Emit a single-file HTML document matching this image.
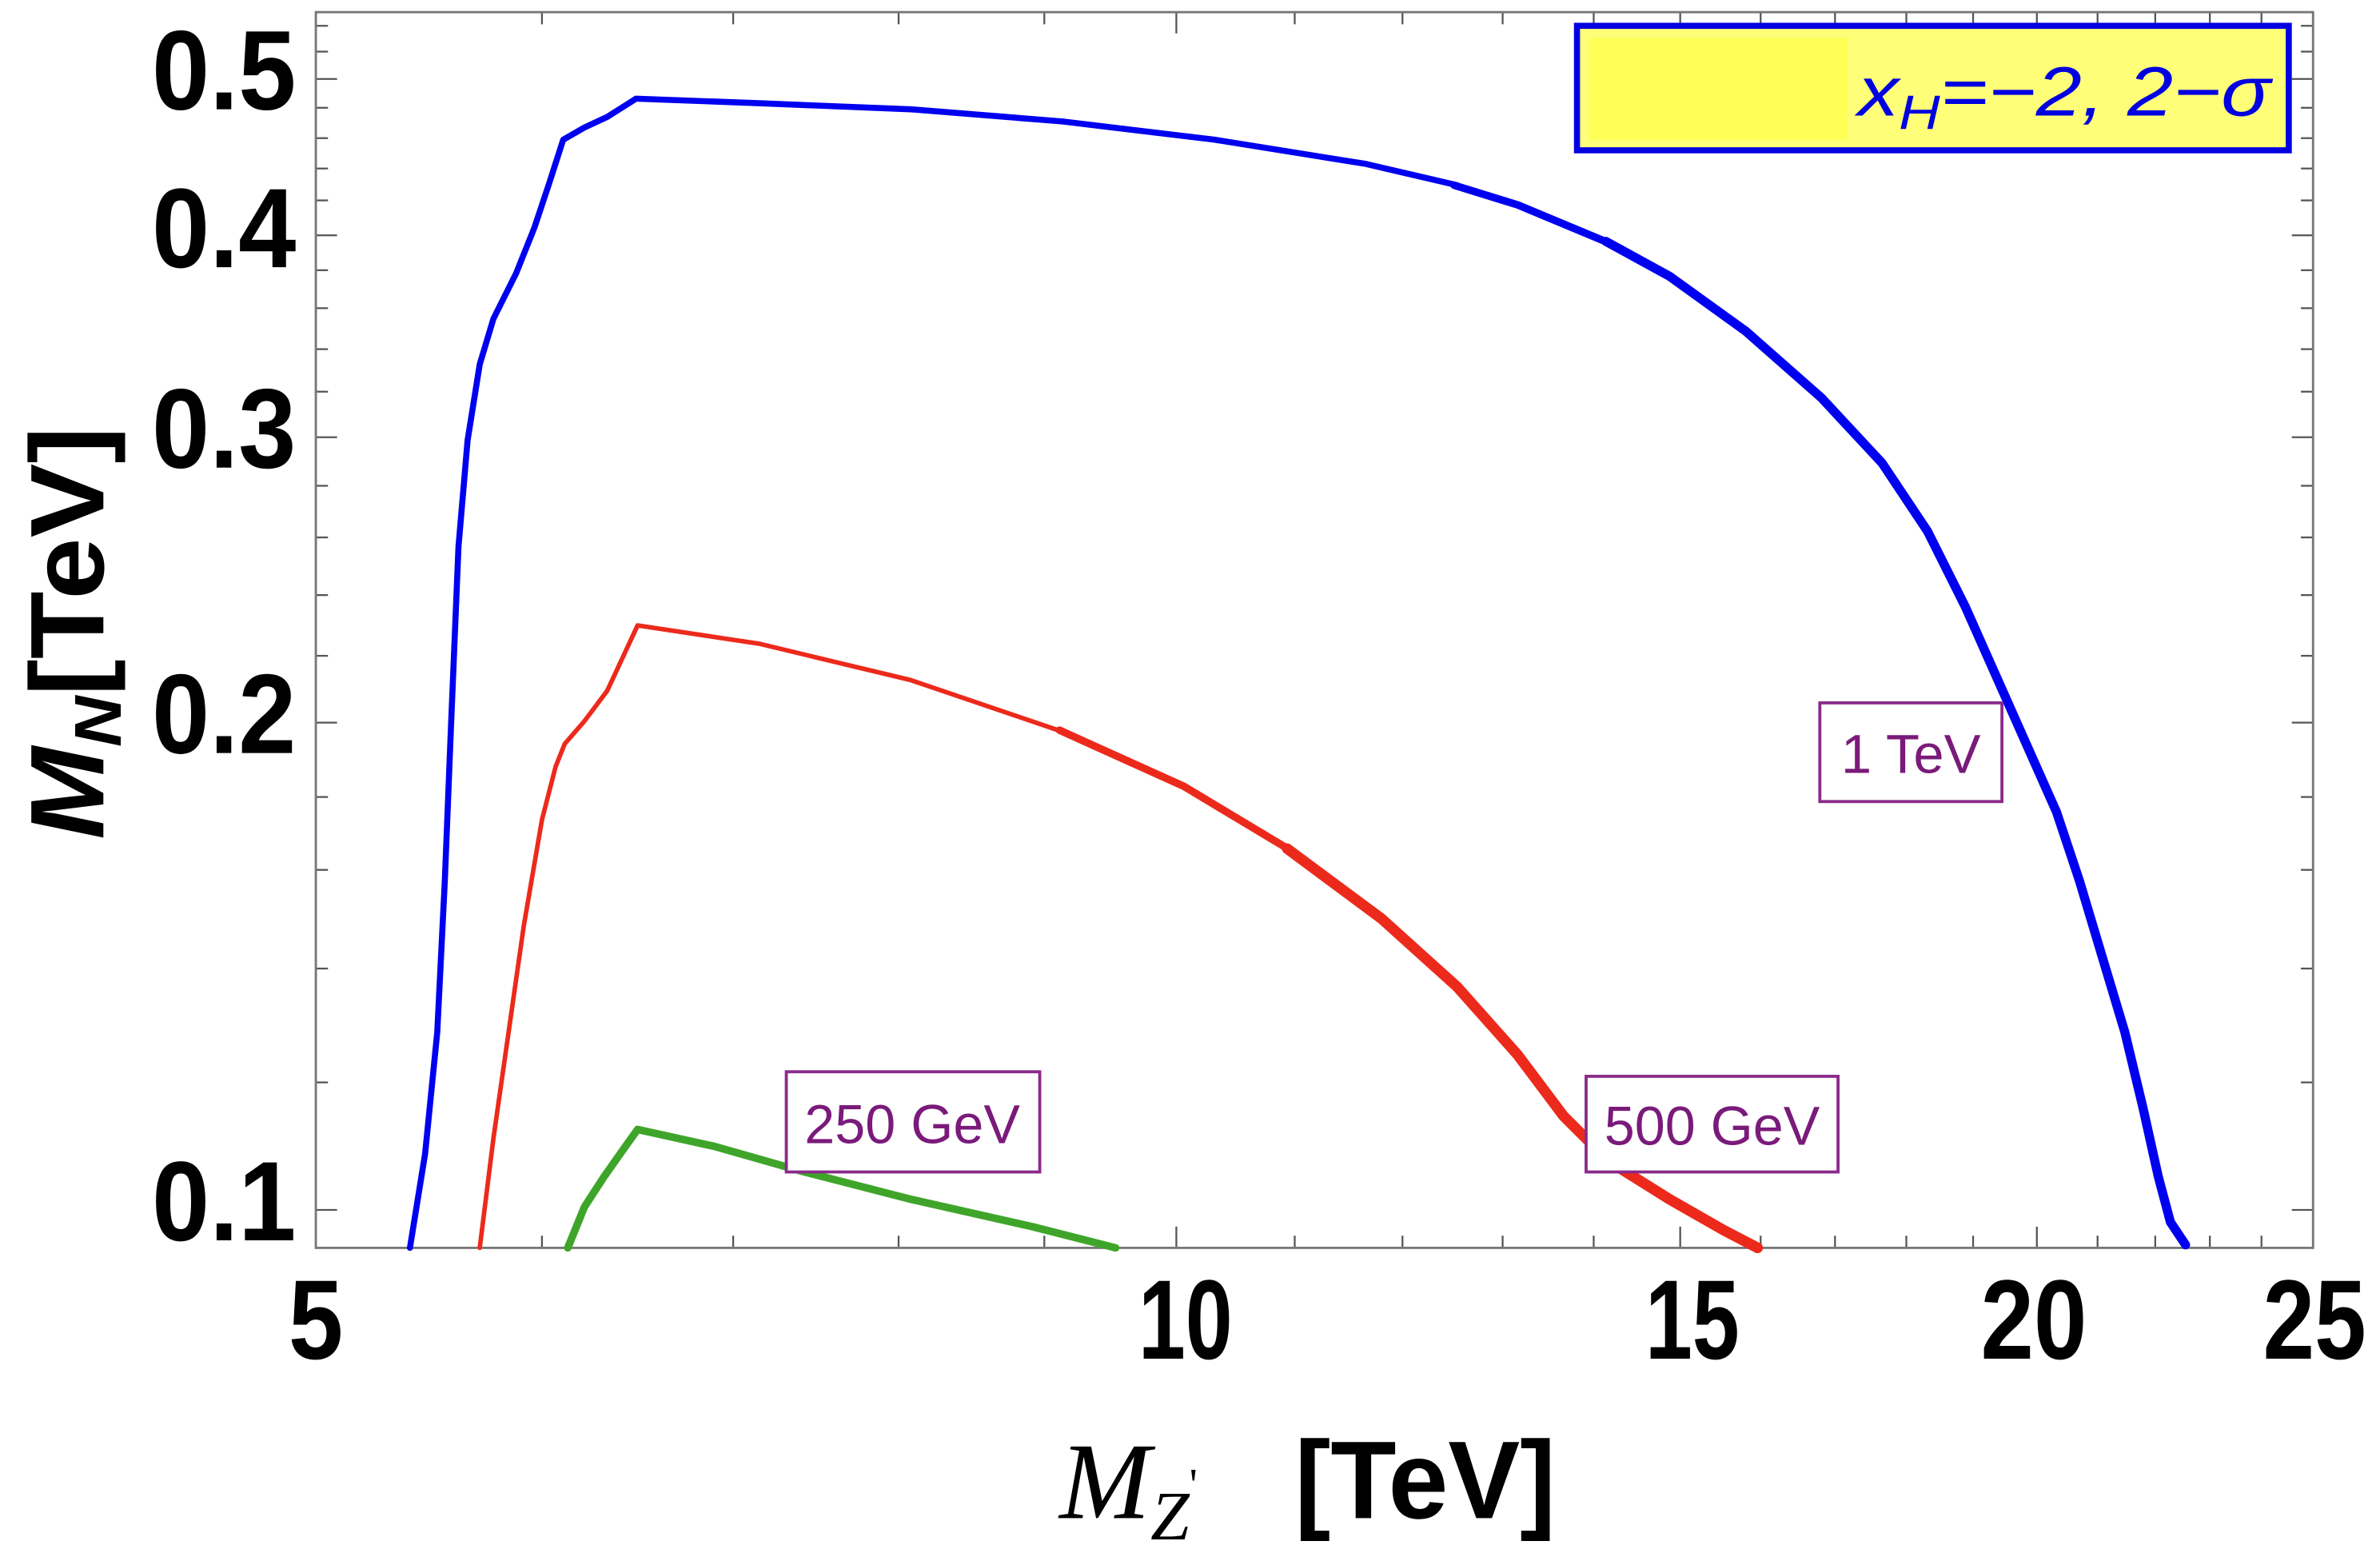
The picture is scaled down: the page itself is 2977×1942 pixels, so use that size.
<!DOCTYPE html>
<html><head><meta charset="utf-8"><style>
html,body{margin:0;padding:0;background:#fff;}
svg{display:block;}
</style></head><body>
<svg xmlns="http://www.w3.org/2000/svg" width="2977" height="1942" viewBox="0 0 1568 1023">
<rect x="0" y="0" width="1568" height="1023" fill="#fff"/>
<g stroke="#555" stroke-width="1.2">
<g id="xt">
<line x1="357" y1="822" x2="357" y2="814"/>
<line x1="483" y1="822" x2="483" y2="814"/>
<line x1="592" y1="822" x2="592" y2="814"/>
<line x1="688" y1="822" x2="688" y2="814"/>
<line x1="775" y1="822" x2="775" y2="808"/>
<line x1="853" y1="822" x2="853" y2="814"/>
<line x1="924" y1="822" x2="924" y2="814"/>
<line x1="990" y1="822" x2="990" y2="814"/>
<line x1="1050" y1="822" x2="1050" y2="814"/>
<line x1="1107" y1="822" x2="1107" y2="808"/>
<line x1="1160" y1="822" x2="1160" y2="814"/>
<line x1="1209" y1="822" x2="1209" y2="814"/>
<line x1="1256" y1="822" x2="1256" y2="814"/>
<line x1="1300" y1="822" x2="1300" y2="814"/>
<line x1="1342" y1="822" x2="1342" y2="808"/>
<line x1="1382" y1="822" x2="1382" y2="814"/>
<line x1="1420" y1="822" x2="1420" y2="814"/>
<line x1="1456" y1="822" x2="1456" y2="814"/>
<line x1="1490" y1="822" x2="1490" y2="814"/>
</g>
<use href="#xt" transform="translate(0,830) scale(1,-1)"/>
<g id="yt">
<line x1="208" y1="797" x2="222" y2="797"/>
<line x1="208" y1="713" x2="216" y2="713"/>
<line x1="208" y1="638" x2="216" y2="638"/>
<line x1="208" y1="573" x2="216" y2="573"/>
<line x1="208" y1="525" x2="216" y2="525"/>
<line x1="208" y1="476" x2="222" y2="476"/>
<line x1="208" y1="432" x2="216" y2="432"/>
<line x1="208" y1="392" x2="216" y2="392"/>
<line x1="208" y1="354" x2="216" y2="354"/>
<line x1="208" y1="320" x2="216" y2="320"/>
<line x1="208" y1="288" x2="222" y2="288"/>
<line x1="208" y1="258" x2="216" y2="258"/>
<line x1="208" y1="230" x2="216" y2="230"/>
<line x1="208" y1="203" x2="216" y2="203"/>
<line x1="208" y1="178" x2="216" y2="178"/>
<line x1="208" y1="155" x2="222" y2="155"/>
<line x1="208" y1="132" x2="216" y2="132"/>
<line x1="208" y1="111" x2="216" y2="111"/>
<line x1="208" y1="91" x2="216" y2="91"/>
<line x1="208" y1="71" x2="216" y2="71"/>
<line x1="208" y1="52" x2="222" y2="52"/>
<line x1="208" y1="34" x2="216" y2="34"/>
<line x1="208" y1="17" x2="216" y2="17"/>
</g>
<use href="#yt" transform="translate(1732,0) scale(-1,1)"/>
</g>
<rect x="208" y="8" width="1316" height="814" fill="none" stroke="#777" stroke-width="1.5"/>
<g fill="none" stroke-linejoin="round" stroke-linecap="round">
<path d="M270,822 L280,760 L288,680 L293,580 L297,480 L302,360 L308,290 L316,240 L325,210 L340,180 L352,150 L362,120 L371,92 L385,84 L400,77 L419,65 L500,68 L600,72 L700,80 L800,92 L900,108 L960,122" stroke="#0000f0" stroke-width="4"/>
<path d="M958,122 L1000,135 L1060,160" stroke="#0000f0" stroke-width="5"/>
<path d="M1058,159 L1100,182 L1150,218 L1200,262 L1240,305 L1270,350 L1295,400 L1315,445 L1335,490 L1355,535 L1370,580 L1385,630 L1400,680 L1412,730 L1422,775 L1430,805 L1440,820" stroke="#0000f0" stroke-width="6"/>
<path d="M316,822 L325,750 L335,680 L345,610 L357,540 L366,505 L372,490 L385,475 L400,455 L420,412 L500,424 L600,448 L700,482" stroke="#ec2a1c" stroke-width="3"/>
<path d="M698,481 L780,518 L850,560" stroke="#ec2a1c" stroke-width="5"/>
<path d="M848,559 L910,605 L960,650 L1000,695 L1030,735 L1060,765 L1100,790 L1135,810 L1158,822" stroke="#ec2a1c" stroke-width="7"/>
<path d="M374,822 L385,795 L398,775 L410,758 L420,744 L470,755 L530,772 L600,790 L680,808 L735,822" stroke="#3fa52a" stroke-width="5"/>
</g>
<g font-family="Liberation Sans, sans-serif" font-size="36" fill="#7a1a7a">
<rect x="1199" y="463" width="120" height="65" fill="#fff" stroke="#8a2a8a" stroke-width="2"/>
<text x="1259" y="509" text-anchor="middle" textLength="92" lengthAdjust="spacingAndGlyphs">1 TeV</text>
<rect x="1045" y="709" width="166" height="63" fill="#fff" stroke="#8a2a8a" stroke-width="2"/>
<text x="1128" y="754" text-anchor="middle" textLength="142" lengthAdjust="spacingAndGlyphs">500 GeV</text>
<rect x="518" y="706" width="167" height="66" fill="#fff" stroke="#8a2a8a" stroke-width="2"/>
<text x="601" y="753" text-anchor="middle" textLength="142" lengthAdjust="spacingAndGlyphs">250 GeV</text>
</g>
<rect x="1039" y="17" width="469" height="82" fill="#fefe78" stroke="#0000e0" stroke-width="4"/>
<rect x="1047" y="25" width="170" height="67" fill="#ffff55"/>
<text x="1224" y="76" font-family="Liberation Sans, sans-serif" font-style="italic" font-size="46" fill="#0000e0" textLength="272" lengthAdjust="spacingAndGlyphs">x<tspan font-size="32" dy="9">H</tspan><tspan dy="-9">=−2, 2−σ</tspan></text>
<g font-family="Liberation Sans, sans-serif" font-weight="bold" font-size="54" fill="#000">
<g transform="translate(0,72) scale(1,1.38)"><text x="195" y="0" text-anchor="end" textLength="95" lengthAdjust="spacingAndGlyphs">0.5</text></g>
<g transform="translate(0,176) scale(1,1.38)"><text x="195" y="0" text-anchor="end" textLength="95" lengthAdjust="spacingAndGlyphs">0.4</text></g>
<g transform="translate(0,308) scale(1,1.38)"><text x="195" y="0" text-anchor="end" textLength="95" lengthAdjust="spacingAndGlyphs">0.3</text></g>
<g transform="translate(0,496) scale(1,1.38)"><text x="195" y="0" text-anchor="end" textLength="95" lengthAdjust="spacingAndGlyphs">0.2</text></g>
<g transform="translate(0,817) scale(1,1.38)"><text x="195" y="0" text-anchor="end" textLength="95" lengthAdjust="spacingAndGlyphs">0.1</text></g>
<g transform="translate(0,895) scale(1,1.38)">
<text x="208" y="0" text-anchor="middle" textLength="36" lengthAdjust="spacingAndGlyphs">5</text>
<text x="781" y="0" text-anchor="middle" textLength="62" lengthAdjust="spacingAndGlyphs">10</text>
<text x="1115" y="0" text-anchor="middle" textLength="62" lengthAdjust="spacingAndGlyphs">15</text>
<text x="1340" y="0" text-anchor="middle" textLength="70" lengthAdjust="spacingAndGlyphs">20</text>
<text x="1525" y="0" text-anchor="middle" textLength="68" lengthAdjust="spacingAndGlyphs">25</text>
</g>
</g>
<g transform="translate(68,553) rotate(-90) scale(1,1.15)" font-family="Liberation Sans, sans-serif" font-weight="bold" font-size="60" fill="#000">
<text x="0" y="0" textLength="272" lengthAdjust="spacingAndGlyphs"><tspan font-style="italic">M</tspan><tspan font-style="italic" font-size="38" dy="10">N</tspan><tspan dy="-10">[TeV]</tspan></text>
</g>
<text x="698" y="1000" font-family="Liberation Serif, serif" font-style="italic" font-size="72" fill="#000">M<tspan font-size="46" dy="14">Z</tspan><tspan font-size="30" dy="-26" font-style="normal">'</tspan></text>
<g transform="translate(0,1000) scale(1,1.3)"><text x="853" y="0" font-family="Liberation Sans, sans-serif" font-weight="bold" font-size="56" fill="#000" textLength="172" lengthAdjust="spacingAndGlyphs">[TeV]</text></g>
</svg>
</body></html>
